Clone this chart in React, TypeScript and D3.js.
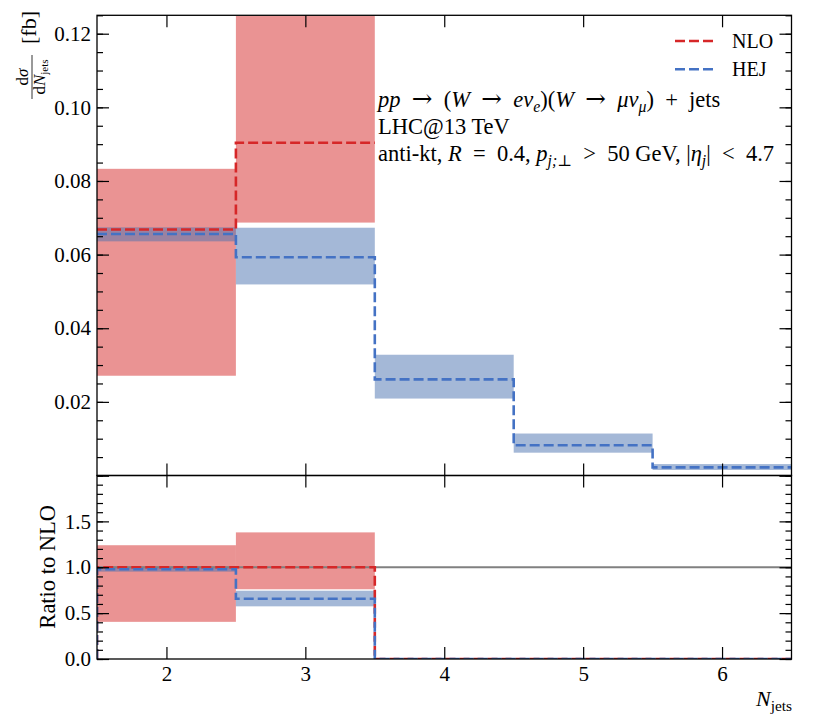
import React, { useEffect, useRef } from 'react';
import * as d3 from 'd3';

// bin centres (N_jets)
const bins = [2, 3, 4, 5, 6];

// main panel, d sigma / d N_jets [fb]
const nloCentral = [0.0668, 0.0904, null, null, null];
const nloLow = [0.0271, 0.0687, null, null, null];
const nloHigh = [0.0833, 0.1248, null, null, null];
const hejCentral = [0.0656, 0.0593, 0.0261, 0.0082, 0.0022];
const hejLow = [0.0636, 0.0519, 0.0209, 0.0062, 0.0015];
const hejHigh = [0.0674, 0.0673, 0.0328, 0.0114, 0.0031];

// ratio panel
const nloRatio = [1, 1, 0, 0, 0];
const nloRatioLow = [0.405, 0.76, 0, 0, 0];
const nloRatioHigh = [1.24, 1.38, 0, 0, 0];
const hejRatio = [0.978, 0.656, 0, 0, 0];
const hejRatioLow = [0.952, 0.574, 0, 0, 0];
const hejRatioHigh = [1.009, 0.744, 0, 0, 0];

const xTicks = [2, 3, 4, 5, 6];
const yTicksTop = [0.02, 0.04, 0.06, 0.08, 0.1, 0.12];
const yTicksRatio = [0, 0.5, 1, 1.5];

const RED = '#d62728';
const BLUE = '#4472c4';
const BLUE_BAND = '#4a72b0';
const FONT = "'Liberation Serif', 'DejaVu Serif', serif";
const SYM = "'DejaVu Serif', serif";

const W = 830;
const H = 727;
const left = 97;
const right = 791.5;
const top = 15.3;
const mid = 475.5;
const bottom = 659;

type Seg = { t: string; it?: boolean; sub?: boolean; sym?: boolean };

// en space, used around relations like LaTeX's thick math space
const S = '\u2002';

function richText(g: any, x: number, y: number, size: number, segs: Seg[]) {
  const text = g.append('text')
    .attr('x', x)
    .attr('y', y)
    .attr('font-size', size)
    .style('white-space', 'pre');
  let down = false;
  segs.forEach((s) => {
    const ts = text.append('tspan').text(s.t);
    if (s.it) ts.attr('font-style', 'italic');
    if (s.sym) ts.attr('font-family', SYM).attr('font-size', size * 1.1);
    if (s.sub) {
      ts.attr('font-size', size * 0.7);
      if (!down) { ts.attr('dy', size * 0.22); down = true; }
    } else if (down) {
      ts.attr('dy', -size * 0.22);
      down = false;
    }
  });
  return text;
}

function stepPoints(vals: (number | null)[], fromZero: boolean) {
  const pts: [number, number][] = [];
  let last = -1;
  vals.forEach((v, i) => {
    if (v == null) return;
    if (pts.length === 0 && fromZero) pts.push([bins[i] - 0.5, 0]);
    pts.push([bins[i] - 0.5, v]);
    last = i;
  });
  if (last >= 0) pts.push([bins[last] + 0.5, vals[last] as number]);
  return pts;
}

const App: React.FC = () => {
  const ref = useRef<SVGSVGElement>(null);

  useEffect(() => {
    const svg = d3.select(ref.current);
    svg.selectAll('*').remove();

    const x = d3.scaleLinear().domain([1.5, 6.5]).range([left, right]);
    const yTop = d3.scaleLinear().domain([0, 0.125]).range([mid, top]);
    const yRat = d3.scaleLinear().domain([0, 2]).range([bottom, mid]);

    const defs = svg.append('defs');
    defs.append('clipPath').attr('id', 'clipTop')
      .append('rect').attr('x', left).attr('y', top).attr('width', right - left).attr('height', mid - top);
    defs.append('clipPath').attr('id', 'clipRat')
      .append('rect').attr('x', left).attr('y', mid).attr('width', right - left).attr('height', bottom - mid);

    const bands = (g: any, y: any, low: (number | null)[], high: (number | null)[], color: string) => {
      bins.forEach((b, i) => {
        const lo = low[i];
        const hi = high[i];
        if (lo == null || hi == null || hi - lo <= 0) return;
        g.append('rect')
          .attr('x', x(b - 0.5))
          .attr('width', x(b + 0.5) - x(b - 0.5))
          .attr('y', y(hi))
          .attr('height', y(lo) - y(hi))
          .attr('fill', color)
          .attr('fill-opacity', 0.5);
      });
    };

    const stepLine = (g: any, y: any, vals: (number | null)[], color: string, fromZero: boolean) => {
      const line = d3.line<[number, number]>()
        .x((d) => x(d[0]))
        .y((d) => y(d[1]))
        .curve(d3.curveStepAfter);
      g.append('path')
        .attr('d', line(stepPoints(vals, fromZero)))
        .attr('fill', 'none')
        .attr('stroke', color)
        .attr('stroke-width', 2.6)
        .attr('stroke-dasharray', '10,4');
    };

    // ---- main panel
    const gTop = svg.append('g').attr('clip-path', 'url(#clipTop)');
    bands(gTop, yTop, nloLow, nloHigh, RED);
    bands(gTop, yTop, hejLow, hejHigh, BLUE_BAND);
    stepLine(gTop, yTop, nloCentral, RED, false);
    stepLine(gTop, yTop, hejCentral, BLUE, false);

    // ---- ratio panel
    const gRat = svg.append('g').attr('clip-path', 'url(#clipRat)');
    bands(gRat, yRat, nloRatioLow, nloRatioHigh, RED);
    bands(gRat, yRat, hejRatioLow, hejRatioHigh, BLUE_BAND);
    gRat.append('line')
      .attr('x1', left).attr('x2', right)
      .attr('y1', yRat(1)).attr('y2', yRat(1))
      .attr('stroke', '#808080')
      .attr('stroke-width', 2);
    stepLine(gRat, yRat, nloRatio, RED, true);
    stepLine(gRat, yRat, hejRatio, BLUE, true);

    // ---- axes, all ticks inward
    const styleAxis = (g: any) => {
      g.select('.domain').remove();
      g.selectAll('line').attr('stroke', '#000').attr('stroke-width', 1.2);
      g.selectAll('text').attr('font-family', FONT).attr('font-size', 21).attr('fill', '#000');
    };
    const none = () => '';

    const yAxes = (y: any, major: number[], minor: number[], fmt: (d: any) => string) => {
      svg.append('g').attr('transform', `translate(${left},0)`)
        .call(d3.axisLeft(y).tickValues(major).tickSize(-12).tickPadding(6).tickFormat(fmt))
        .call(styleAxis);
      svg.append('g').attr('transform', `translate(${left},0)`)
        .call(d3.axisLeft(y).tickValues(minor).tickSize(-6).tickFormat(none))
        .call(styleAxis);
      svg.append('g').attr('transform', `translate(${right},0)`)
        .call(d3.axisRight(y).tickValues(major).tickSize(-12).tickFormat(none))
        .call(styleAxis);
      svg.append('g').attr('transform', `translate(${right},0)`)
        .call(d3.axisRight(y).tickValues(minor).tickSize(-6).tickFormat(none))
        .call(styleAxis);
    };

    yAxes(yTop, [0, ...yTicksTop], d3.range(0, 0.1251, 0.005),
      (d) => (d === 0 ? '' : d3.format('.2f')(d)));
    yAxes(yRat, [...yTicksRatio, 2], d3.range(0, 2.001, 0.1),
      (d) => (d === 2 ? '' : d3.format('.1f')(d)));

    svg.append('g').attr('transform', `translate(0,${top})`)
      .call(d3.axisTop(x).tickValues(xTicks).tickSize(-12).tickFormat(none)).call(styleAxis);
    svg.append('g').attr('transform', `translate(0,${mid})`)
      .call(d3.axisBottom(x).tickValues(xTicks).tickSize(-12).tickFormat(none)).call(styleAxis);
    svg.append('g').attr('transform', `translate(0,${mid})`)
      .call(d3.axisTop(x).tickValues(xTicks).tickSize(-12).tickFormat(none)).call(styleAxis);
    svg.append('g').attr('transform', `translate(0,${bottom})`)
      .call(d3.axisBottom(x).tickValues(xTicks).tickSize(-12).tickPadding(7).tickFormat(d3.format('d')))
      .call(styleAxis);

    // spines
    [[top, mid], [mid, bottom]].forEach(([a, b]) => {
      svg.append('rect')
        .attr('x', left).attr('y', a)
        .attr('width', right - left).attr('height', b - a)
        .attr('fill', 'none').attr('stroke', '#000').attr('stroke-width', 1.3);
    });

    // ---- labels
    const txt = svg.append('g').attr('font-family', FONT).attr('fill', '#000');

    // y label of main panel: d sigma / d N_jets [fb]
    const yl = txt.append('g').attr('transform', 'translate(32,77) rotate(-90)');
    yl.append('text').attr('x', 0).attr('y', -4).attr('text-anchor', 'middle')
      .attr('font-size', 17)
      .call((t: any) => {
        t.append('tspan').text('d');
        t.append('tspan').attr('font-style', 'italic').text('σ');
      });
    yl.append('line').attr('x1', -22).attr('x2', 22).attr('y1', 0).attr('y2', 0)
      .attr('stroke', '#000').attr('stroke-width', 0.8);
    yl.append('text').attr('x', 0).attr('y', 13).attr('text-anchor', 'middle')
      .attr('font-size', 17)
      .call((t: any) => {
        t.append('tspan').text('d');
        t.append('tspan').attr('font-style', 'italic').text('N');
        t.append('tspan').attr('font-size', 11).attr('dy', 3).text('jets');
      });
    yl.append('text').attr('x', 33).attr('y', 4).attr('font-size', 22).text('[fb]');

    // y label of ratio panel
    txt.append('text')
      .attr('transform', `translate(55,${(mid + bottom) / 2 - 0.5}) rotate(-90)`)
      .attr('text-anchor', 'middle')
      .attr('font-size', 22.5)
      .text('Ratio to NLO');

    // x label
    const xl = richText(txt, 792, 706, 22, [{ t: 'N', it: true }, { t: 'jets', sub: true }]);
    xl.attr('text-anchor', 'end');

    // legend
    const legend = [
      { name: 'NLO', color: RED, y: 41 },
      { name: 'HEJ', color: BLUE, y: 69.3 },
    ];
    legend.forEach((l) => {
      txt.append('line')
        .attr('x1', 675).attr('x2', 713)
        .attr('y1', l.y).attr('y2', l.y)
        .attr('stroke', l.color).attr('stroke-width', 2.6)
        .attr('stroke-dasharray', '10,4');
      txt.append('text').attr('x', 732).attr('y', l.y + 6.8)
        .attr('font-size', 20).text(l.name);
    });

    // process annotation
    const fs = 22.5;
    richText(txt, 378, 107, fs, [
      { t: 'pp', it: true }, { t: S }, { t: '→', sym: true }, { t: S + '(' }, { t: 'W', it: true },
      { t: S }, { t: '→', sym: true }, { t: S },
      { t: 'eν', it: true }, { t: 'e', it: true, sub: true }, { t: ')(' },
      { t: 'W', it: true }, { t: S }, { t: '→', sym: true }, { t: S },
      { t: 'μν', it: true }, { t: 'μ', it: true, sub: true },
      { t: ')' + S + '+' + S + 'jets' },
    ]);
    richText(txt, 378, 134, fs, [{ t: 'LHC@13 TeV' }]);
    richText(txt, 378, 161, fs, [
      { t: 'anti-kt, ' }, { t: 'R', it: true }, { t: S + '=' + S + '0.4, ' },
      { t: 'p', it: true }, { t: 'j;⊥', it: true, sub: true },
      { t: S + '>' + S + '50 GeV, |' }, { t: 'η', it: true }, { t: 'j', it: true, sub: true },
      { t: '|' + S + '<' + S + '4.7' },
    ]);
  }, []);

  return (
    <svg
      ref={ref}
      width={W}
      height={H}
      style={{ position: 'absolute', left: 0, top: 0, background: '#fff' }}
    />
  );
};

export default App;
